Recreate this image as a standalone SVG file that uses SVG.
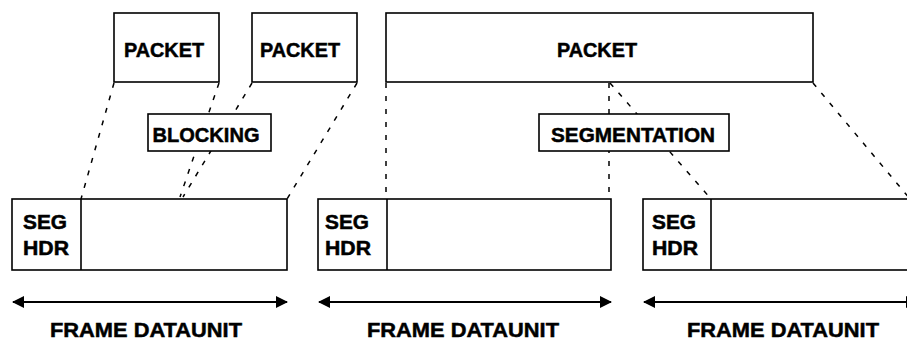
<svg xmlns="http://www.w3.org/2000/svg" width="907" height="341" viewBox="0 0 907 341">
<style>
.box{fill:#fff;stroke:#000;stroke-width:1.6}
.dv{stroke:#000;stroke-width:1.6;fill:none}
.dash{stroke:#000;stroke-width:1.5;fill:none;stroke-dasharray:5 8}
.arr{stroke:#000;stroke-width:1.8;fill:none}
.lbl{font-family:"Liberation Sans",Arial,sans-serif;font-weight:bold;font-size:21px;fill:#000;stroke:#000;stroke-width:0.5}
.hdr{font-family:"Liberation Sans",Arial,sans-serif;font-weight:bold;font-size:20px;fill:#000;stroke:#000;stroke-width:0.5}
</style>
<defs>
<marker id="ah" viewBox="0 0 12 12" refX="11" refY="6" markerWidth="12" markerHeight="12" markerUnits="userSpaceOnUse" orient="auto-start-reverse">
<path d="M0,0 L12,6 L0,12 Z" fill="#000"/>
</marker>
</defs>
<rect width="907" height="341" fill="#fff"/>
<g id="connectors">
<line class="dash" x1="114" y1="83" x2="81" y2="199"/>
<line class="dash" x1="219" y1="83" x2="180" y2="197"/>
<line class="dash" x1="252" y1="83" x2="183" y2="197"/>
<line class="dash" x1="357" y1="83" x2="287" y2="199"/>
<line class="dash" x1="386" y1="83" x2="386" y2="199"/>
<line class="dash" x1="609" y1="83" x2="609" y2="199"/>
<line class="dash" x1="610" y1="83" x2="711" y2="199"/>
<line class="dash" x1="813" y1="83" x2="910" y2="199"/>
<line class="arr" x1="13" y1="302" x2="287" y2="302" marker-start="url(#ah)" marker-end="url(#ah)"/>
<line class="arr" x1="319" y1="302" x2="611" y2="302" marker-start="url(#ah)" marker-end="url(#ah)"/>
<line class="arr" x1="644" y1="302" x2="917" y2="302" marker-start="url(#ah)" marker-end="url(#ah)"/>
</g>
<g id="packet1">
<rect class="box" x="114" y="13" width="105" height="69"/>
<text class="lbl" x="164" y="57" text-anchor="middle" textLength="80" lengthAdjust="spacingAndGlyphs">PACKET</text>
</g>
<g id="packet2">
<rect class="box" x="252" y="13" width="105" height="69"/>
<text class="lbl" x="300" y="57" text-anchor="middle" textLength="80" lengthAdjust="spacingAndGlyphs">PACKET</text>
</g>
<g id="packet3">
<rect class="box" x="386" y="13" width="427" height="69"/>
<text class="lbl" x="597" y="57" text-anchor="middle" textLength="80" lengthAdjust="spacingAndGlyphs">PACKET</text>
</g>
<g id="blocking">
<rect class="box" x="148" y="114" width="123" height="37"/>
<text class="lbl" x="206" y="142" text-anchor="middle" textLength="107" lengthAdjust="spacingAndGlyphs">BLOCKING</text>
</g>
<g id="segmentation">
<rect class="box" x="539" y="114" width="190" height="37"/>
<text class="lbl" x="633" y="142" text-anchor="middle" textLength="164" lengthAdjust="spacingAndGlyphs">SEGMENTATION</text>
</g>
<g id="frame1">
<rect class="box" x="12" y="199" width="275" height="71"/>
<line class="dv" x1="81" y1="199" x2="81" y2="270"/>
<text class="hdr" x="23" y="229" textLength="44" lengthAdjust="spacingAndGlyphs">SEG</text>
<text class="hdr" x="23" y="255" textLength="46" lengthAdjust="spacingAndGlyphs">HDR</text>
<text class="lbl" x="146" y="337" text-anchor="middle" textLength="192" lengthAdjust="spacingAndGlyphs">FRAME DATAUNIT</text>
</g>
<g id="frame2">
<rect class="box" x="318" y="199" width="293" height="71"/>
<line class="dv" x1="387" y1="199" x2="387" y2="270"/>
<text class="hdr" x="325" y="229" textLength="44" lengthAdjust="spacingAndGlyphs">SEG</text>
<text class="hdr" x="325" y="255" textLength="46" lengthAdjust="spacingAndGlyphs">HDR</text>
<text class="lbl" x="463" y="337" text-anchor="middle" textLength="192" lengthAdjust="spacingAndGlyphs">FRAME DATAUNIT</text>
</g>
<g id="frame3">
<rect class="box" x="643" y="199" width="280" height="71"/>
<line class="dv" x1="711" y1="199" x2="711" y2="270"/>
<text class="hdr" x="652" y="229" textLength="44" lengthAdjust="spacingAndGlyphs">SEG</text>
<text class="hdr" x="652" y="255" textLength="46" lengthAdjust="spacingAndGlyphs">HDR</text>
<text class="lbl" x="783" y="337" text-anchor="middle" textLength="192" lengthAdjust="spacingAndGlyphs">FRAME DATAUNIT</text>
</g>
</svg>
